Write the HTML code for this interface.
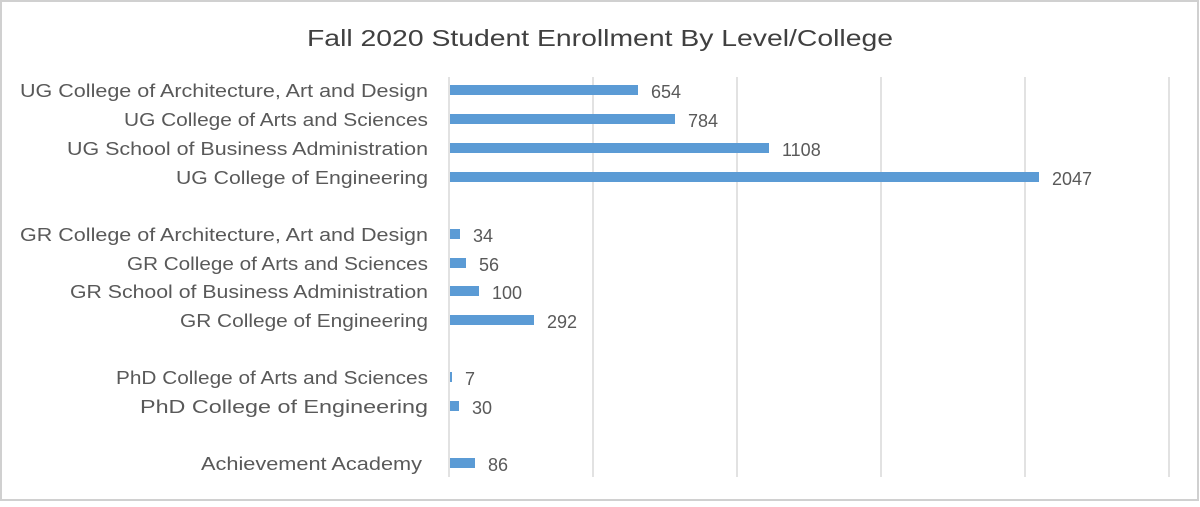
<!DOCTYPE html>
<html><head><meta charset="utf-8"><style>
body{margin:0;background:#fff;}
svg text{font-family:"Liberation Sans",sans-serif;}
</style></head><body>
<svg width="1200" height="502" xmlns="http://www.w3.org/2000/svg">
<rect x="1" y="1" width="1197" height="499" fill="#fff" stroke="#d0d0d0" stroke-width="2"/>
<text x="307" y="46" font-size="23" fill="#404040" textLength="586" lengthAdjust="spacingAndGlyphs">Fall 2020 Student Enrollment By Level/College</text>
<g stroke="#d9d9d9" stroke-width="1.5">
<line x1="593" y1="77" x2="593" y2="477"/><line x1="737" y1="77" x2="737" y2="477"/>
<line x1="881" y1="77" x2="881" y2="477"/><line x1="1025" y1="77" x2="1025" y2="477"/>
<line x1="1169" y1="77" x2="1169" y2="477"/><line x1="449" y1="77" x2="449" y2="477"/>
</g>
<g font-size="18" fill="#595959">
<text x="20" y="97" textLength="408" lengthAdjust="spacingAndGlyphs">UG College of Architecture, Art and Design</text>
<text x="124" y="126" textLength="304" lengthAdjust="spacingAndGlyphs">UG College of Arts and Sciences</text>
<text x="67" y="155" textLength="361" lengthAdjust="spacingAndGlyphs">UG School of Business Administration</text>
<text x="176" y="184" textLength="252" lengthAdjust="spacingAndGlyphs">UG College of Engineering</text>
<text x="20" y="241" textLength="408" lengthAdjust="spacingAndGlyphs">GR College of Architecture, Art and Design</text>
<text x="127" y="270" textLength="301" lengthAdjust="spacingAndGlyphs">GR College of Arts and Sciences</text>
<text x="70" y="298" textLength="358" lengthAdjust="spacingAndGlyphs">GR School of Business Administration</text>
<text x="180" y="327" textLength="248" lengthAdjust="spacingAndGlyphs">GR College of Engineering</text>
<text x="116" y="384" textLength="312" lengthAdjust="spacingAndGlyphs">PhD College of Arts and Sciences</text>
<text x="140" y="413" textLength="288" lengthAdjust="spacingAndGlyphs">PhD College of Engineering</text>
<text x="201" y="470" textLength="221" lengthAdjust="spacingAndGlyphs">Achievement Academy</text>
<g fill="#5b9bd5">
<rect x="450" y="85" width="188" height="10"/>
<rect x="450" y="114" width="225" height="10"/>
<rect x="450" y="143" width="319" height="10"/>
<rect x="450" y="172" width="589" height="10"/>
<rect x="450" y="229" width="10" height="10"/>
<rect x="450" y="258" width="16" height="10"/>
<rect x="450" y="286" width="29" height="10"/>
<rect x="450" y="315" width="84" height="10"/>
<rect x="450" y="372" width="2" height="10"/>
<rect x="450" y="401" width="9" height="10"/>
<rect x="450" y="458" width="25" height="10"/>
</g>
<text x="651" y="98">654</text>
<text x="688" y="127">784</text>
<text x="782" y="156">1108</text>
<text x="1052" y="185">2047</text>
<text x="473" y="242">34</text>
<text x="479" y="271">56</text>
<text x="492" y="299">100</text>
<text x="547" y="328">292</text>
<text x="465" y="385">7</text>
<text x="472" y="414">30</text>
<text x="488" y="471">86</text>
</g>
</svg>
</body></html>
